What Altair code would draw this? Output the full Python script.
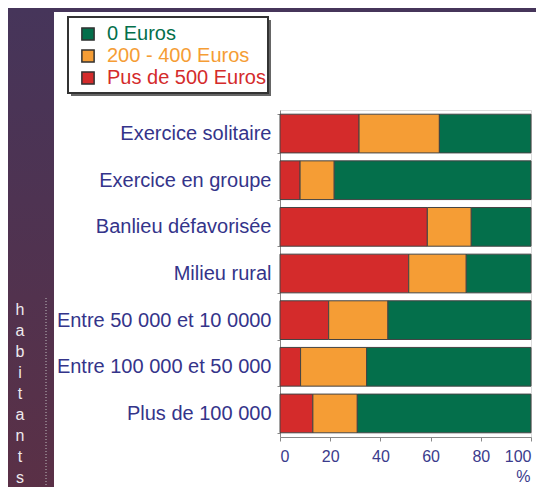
import altair as alt
import pandas as pd

categories = ["Exercice solitaire", "Exercice en groupe", "Banlieu défavorisée",
              "Milieu rural", "Entre 50 000 et 10 0000", "Entre 100 000 et 50 000",
              "Plus de 100 000"]
series = ["0 Euros", "200 - 400 Euros", "Pus de 500 Euros"]
green_vals = [36.5, 78.4, 23.8, 25.8, 57.0, 65.5, 69.2]
orange_vals = [32.0, 13.6, 17.5, 22.9, 23.6, 26.3, 17.7]
red_vals = [31.5, 8.0, 58.7, 51.3, 19.4, 8.2, 13.1]
colors = ["#046f4b", "#f59d35", "#d42b2b"]
letters = ["h", "a", "b", "i", "t", "a", "n", "t", "s"]

rows = []
for i, c in enumerate(categories):
    for s, vals, o in [(series[2], red_vals, 0), (series[1], orange_vals, 1), (series[0], green_vals, 2)]:
        rows.append({"cat": c, "serie": s, "value": vals[i], "ord": o})
df = pd.DataFrame(rows)

label_color_expr = ("datum.label == '0 Euros' ? '#046f4b' : "
                    "(datum.label == '200 - 400 Euros' ? '#f59d35' : '#d42b2b')")

bars = alt.Chart(df).mark_bar(stroke="#444444", strokeWidth=1).encode(
    y=alt.Y("cat:N", sort=categories,
            scale=alt.Scale(paddingInner=0.17, paddingOuter=0.09),
            axis=alt.Axis(title=None, labelFontSize=20, labelColor="#34348a",
                          labelPadding=6, tickBand="extent", tickSize=3,
                          tickColor="#888888", domainColor="#888888", labelLimit=300)),
    x=alt.X("value:Q", stack="zero", scale=alt.Scale(domain=[0, 100], nice=False),
            axis=alt.Axis(values=[0, 20, 40, 60, 80, 100], grid=False, title="%",
                          titleAnchor="end", titleAlign="right", titleFontWeight="normal",
                          titleFontSize=16, titleColor="#3b3b8c", titlePadding=4,
                          titleX=250,
                          labelFontSize=16, labelColor="#3b3b8c", labelPadding=7,
                          tickSize=4, tickColor="#888888", domainColor="#888888")),
    color=alt.Color("serie:N", scale=alt.Scale(domain=series, range=colors),
                    legend=alt.Legend(title=None, orient="none", legendX=-208, legendY=-92,
                                      padding=6, symbolType="square", symbolSize=150,
                                      symbolStrokeColor="#333333", symbolStrokeWidth=1.5,
                                      labelFontSize=20, labelOffset=9, rowPadding=2,
                                      labelColor={"expr": label_color_expr},
                                      labelLimit=300)),
    order=alt.Order("ord:Q"),
)

one = alt.Data(values=[{"k": 1}])
grad = alt.Gradient(gradient="linear", stops=[
    alt.GradientStop(color="#46355a", offset=0),
    alt.GradientStop(color="#5a3046", offset=1)], x1=0, x2=0, y1=0, y2=1)

left_strip = alt.Chart(one).mark_rect(color=grad).encode(
    x=alt.value(-272), x2=alt.value(-226), y=alt.value(-102), y2=alt.value(379))
top_strip = alt.Chart(one).mark_rect(color="#46355a").encode(
    x=alt.value(-272), x2=alt.value(260), y=alt.value(-102), y2=alt.value(-98))
shadow = alt.Chart(one).mark_rect(color="#666666").encode(
    x=alt.value(-209), x2=alt.value(-9), y=alt.value(-90), y2=alt.value(-14))
frame = alt.Chart(one).mark_rect(fill="white", stroke="#333333", strokeWidth=2).encode(
    x=alt.value(-212), x2=alt.value(-12), y=alt.value(-93), y2=alt.value(-17))
dotted = alt.Chart(one).mark_rule(color="#bbbbbb", strokeDash=[1, 2], strokeWidth=1).encode(
    x=alt.value(-234), y=alt.value(188), y2=alt.value(379))
vtext = alt.Chart(one).mark_text(color="#eeeaee", fontSize=16, font="Liberation Sans",
                                 lineHeight=21, baseline="top", align="center").encode(
    x=alt.value(-260), y=alt.value(192), text=alt.value(letters))

chart = alt.layer(left_strip, top_strip, dotted, vtext, shadow, frame, bars).properties(
    width=251, height=327, background="white",
    autosize=alt.AutoSizeParams(type="none"),
    padding={"left": 272, "top": 102, "right": 5, "bottom": 50},
).configure_view(stroke=None).configure(font="Liberation Sans")

chart.save("out.html", embed_options={"renderer": "svg", "actions": False})
